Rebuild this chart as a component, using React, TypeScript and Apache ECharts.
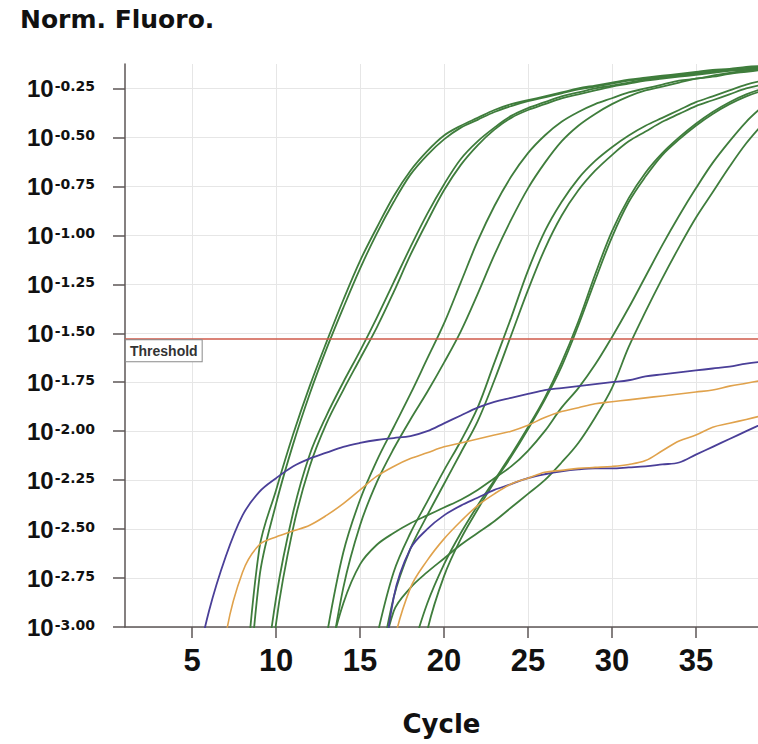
import React, { useEffect, useRef } from 'react';
import * as echarts from 'echarts';

// Cycle numbers (x values)
const cycles = [1,2,3,4,5,6,7,8,9,10,11,12,13,14,15,16,17,18,19,20,21,22,23,24,25,26,27,28,29,30,31,32,33,34,35,36,37,38,39];
const xTicks = [5, 10, 15, 20, 25, 30, 35];
const yTicks = [-3, -2.75, -2.5, -2.25, -2, -1.75, -1.5, -1.25, -1, -0.75, -0.5, -0.25];
const threshold = -1.53;

// log10(normalised fluorescence) per cycle; each curve starts at the given cycle
const g1aStart = 8;
const g1a = [-3.5,-2.6,-2.3,-2.02,-1.77,-1.545,-1.33,-1.13,-0.96,-0.8,-0.67,-0.57,-0.49,-0.44,-0.4,-0.36,-0.33,-0.31,-0.29,-0.27,-0.25,-0.235,-0.22,-0.205,-0.195,-0.185,-0.175,-0.165,-0.155,-0.15,-0.14,-0.135];
const g1bStart = 8;
const g1b = [-3.8,-2.75,-2.37,-2.07,-1.81,-1.58,-1.37,-1.17,-0.99,-0.83,-0.69,-0.59,-0.51,-0.45,-0.41,-0.37,-0.34,-0.315,-0.295,-0.275,-0.255,-0.24,-0.225,-0.21,-0.2,-0.19,-0.18,-0.17,-0.16,-0.155,-0.145,-0.14];
const g2aStart = 9;
const g2a = [-3.5,-2.85,-2.42,-2.12,-1.92,-1.75,-1.59,-1.42,-1.24,-1.06,-0.89,-0.74,-0.61,-0.52,-0.45,-0.39,-0.35,-0.32,-0.29,-0.27,-0.25,-0.235,-0.22,-0.205,-0.195,-0.185,-0.175,-0.165,-0.155,-0.15,-0.145];
const g2bStart = 9;
const g2b = [-3.8,-2.98,-2.5,-2.18,-1.96,-1.79,-1.63,-1.47,-1.29,-1.1,-0.93,-0.77,-0.64,-0.54,-0.46,-0.4,-0.36,-0.33,-0.3,-0.28,-0.26,-0.24,-0.225,-0.21,-0.2,-0.19,-0.18,-0.17,-0.16,-0.155,-0.15];
const g3aStart = 13;
const g3a = [-3.05,-2.62,-2.35,-2.15,-1.98,-1.81,-1.63,-1.45,-1.24,-1.03,-0.85,-0.7,-0.58,-0.49,-0.42,-0.37,-0.33,-0.3,-0.27,-0.25,-0.23,-0.21,-0.2,-0.185,-0.17,-0.16,-0.15];
const g3bStart = 13;
const g3b = [-3.3,-2.8,-2.48,-2.26,-2.09,-1.94,-1.8,-1.65,-1.49,-1.3,-1.1,-0.92,-0.76,-0.63,-0.52,-0.44,-0.38,-0.33,-0.29,-0.26,-0.24,-0.22,-0.2,-0.19,-0.175,-0.165,-0.155];
const g4aStart = 16;
const g4a = [-3.05,-2.72,-2.52,-2.36,-2.2,-2.05,-1.88,-1.65,-1.42,-1.18,-0.98,-0.83,-0.71,-0.62,-0.55,-0.49,-0.44,-0.4,-0.36,-0.32,-0.29,-0.26,-0.23,-0.21];
const g4bStart = 16;
const g4b = [-3.3,-2.85,-2.6,-2.43,-2.27,-2.11,-1.95,-1.74,-1.51,-1.28,-1.07,-0.9,-0.77,-0.67,-0.59,-0.52,-0.47,-0.42,-0.38,-0.34,-0.31,-0.28,-0.25,-0.23];
const g5aStart = 18;
const g5a = [-3.15,-2.88,-2.68,-2.52,-2.38,-2.25,-2.12,-1.98,-1.83,-1.65,-1.44,-1.2,-0.98,-0.81,-0.68,-0.58,-0.5,-0.43,-0.37,-0.32,-0.28,-0.25];
const g5bStart = 18;
const g5b = [-3.5,-3.02,-2.74,-2.55,-2.4,-2.26,-2.13,-1.99,-1.84,-1.67,-1.46,-1.23,-1.01,-0.83,-0.7,-0.59,-0.51,-0.44,-0.38,-0.33,-0.29,-0.26];
const g6aStart = 13;
const g6a = [-3.2,-2.88,-2.68,-2.58,-2.52,-2.47,-2.43,-2.39,-2.35,-2.3,-2.24,-2.18,-2.1,-2.0,-1.88,-1.78,-1.66,-1.52,-1.37,-1.21,-1.05,-0.9,-0.76,-0.63,-0.52,-0.42,-0.34];
const g6bStart = 16;
const g6b = [-3.3,-2.92,-2.8,-2.72,-2.65,-2.58,-2.52,-2.46,-2.39,-2.32,-2.25,-2.16,-2.06,-1.93,-1.78,-1.57,-1.39,-1.22,-1.06,-0.91,-0.78,-0.65,-0.53,-0.43];
const blue1Start = 5;
const blue1 = [-3.3,-2.92,-2.64,-2.43,-2.31,-2.24,-2.18,-2.14,-2.11,-2.08,-2.06,-2.045,-2.035,-2.025,-2.0,-1.96,-1.92,-1.88,-1.85,-1.83,-1.81,-1.79,-1.78,-1.77,-1.76,-1.75,-1.74,-1.72,-1.71,-1.7,-1.69,-1.68,-1.67,-1.655,-1.645];
const orange1Start = 6;
const orange1 = [-3.9,-3.05,-2.72,-2.58,-2.54,-2.51,-2.48,-2.43,-2.37,-2.3,-2.23,-2.18,-2.14,-2.11,-2.08,-2.06,-2.04,-2.02,-2.0,-1.97,-1.93,-1.9,-1.88,-1.86,-1.85,-1.84,-1.83,-1.82,-1.81,-1.8,-1.79,-1.77,-1.755,-1.74];
const blue2Start = 16;
const blue2 = [-3.5,-2.85,-2.6,-2.5,-2.43,-2.38,-2.34,-2.3,-2.27,-2.24,-2.22,-2.205,-2.195,-2.19,-2.19,-2.185,-2.18,-2.17,-2.16,-2.12,-2.08,-2.04,-2.0,-1.96];
const orange2Start = 16;
const orange2 = [-4.0,-3.1,-2.8,-2.66,-2.55,-2.46,-2.38,-2.32,-2.27,-2.24,-2.21,-2.2,-2.19,-2.185,-2.18,-2.17,-2.15,-2.1,-2.05,-2.02,-1.98,-1.96,-1.94,-1.92];

const greenCurves = [
  [g1aStart, g1a], [g1bStart, g1b], [g2aStart, g2a], [g2bStart, g2b],
  [g3aStart, g3a], [g3bStart, g3b], [g4aStart, g4a], [g4bStart, g4b],
  [g5aStart, g5a], [g5bStart, g5b], [g6aStart, g6a], [g6bStart, g6b],
] as [number, number[]][];

const DV = '"DejaVu Sans", sans-serif';
const LIB = '"Liberation Sans", Arial, sans-serif';
const GREEN = '#3f7d3c';
const BLUE = '#4a3f98';
const ORANGE = '#e0a24c';
const AXIS = '#5c5656';

function toData(start: number, values: number[]) {
  return values.map((v, i) => [cycles[start - 1 + i], v]);
}

function lineSeries(name: string, start: number, values: number[], color: string, width: number) {
  return {
    name,
    type: 'line',
    data: toData(start, values),
    showSymbol: false,
    smooth: 0.35,
    clip: true,
    lineStyle: { color, width },
    emphasis: { disabled: true },
  } as any;
}

export default function App() {
  const ref = useRef<HTMLDivElement>(null);
  useEffect(() => {
    if (!ref.current) return;
    const chart = echarts.init(ref.current, undefined, { renderer: 'svg' });
    const series: any[] = greenCurves.map(([s, v], i) => lineSeries('green' + i, s, v, GREEN, 1.8));
    series.push(lineSeries('blue1', blue1Start, blue1, BLUE, 1.8));
    series.push(lineSeries('orange1', orange1Start, orange1, ORANGE, 1.6));
    series.push(lineSeries('blue2', blue2Start, blue2, BLUE, 1.8));
    const last = lineSeries('orange2', orange2Start, orange2, ORANGE, 1.6);
    last.markLine = {
      silent: true,
      symbol: 'none',
      lineStyle: { color: '#cf5a4a', width: 1.6, type: 'solid' },
      label: {
        show: true,
        position: 'insideStartBottom',
        formatter: 'Threshold',
        fontFamily: LIB,
        fontSize: 14,
        fontWeight: 'bold',
        color: '#333',
        backgroundColor: '#fff',
        borderColor: '#8a8a8a',
        borderWidth: 1,
        padding: [4, 4, 3, 4],
        distance: [1, 1],
      },
      data: [{ yAxis: threshold }],
    };
    series.push(last);

    chart.setOption({
      animation: false,
      backgroundColor: '#ffffff',
      title: {
        text: 'Norm. Fluoro.',
        left: 20,
        top: 7,
        padding: 0,
        textStyle: { fontFamily: DV, fontSize: 25, fontWeight: 'bold', color: '#111' },
      },
      grid: { left: 125, right: 0, top: 64, bottom: 117 },
      xAxis: {
        type: 'value',
        min: 1,
        max: 38.7,
        name: 'Cycle',
        nameLocation: 'middle',
        nameGap: 84,
        nameTextStyle: { fontFamily: DV, fontSize: 26, fontWeight: 'bold', color: '#111' },
        axisLine: { show: true, onZero: false, lineStyle: { color: AXIS, width: 1.5 } },
        axisTick: { show: true, inside: false, length: 11, customValues: xTicks, lineStyle: { color: AXIS, width: 1.5 } },
        axisLabel: { customValues: xTicks, margin: 18, fontFamily: LIB, fontWeight: 'bold', fontSize: 31, color: '#111' },
        splitLine: { show: true, lineStyle: { color: '#e6e6e6', width: 1 } },
      },
      yAxis: {
        type: 'value',
        min: -3,
        max: -0.125,
        axisLine: { show: true, onZero: false, lineStyle: { color: AXIS, width: 1.5 } },
        axisTick: { show: true, inside: false, length: 12, customValues: yTicks, lineStyle: { color: AXIS, width: 1.5 } },
        axisLabel: {
          customValues: yTicks,
          margin: 30,
          formatter: (v: number) => `{b|10}{s|${v.toFixed(2)}}`,
          rich: {
            b: { fontFamily: LIB, fontWeight: 'bold', fontSize: 24, color: '#111', lineHeight: 25, verticalAlign: 'bottom' },
            s: { fontFamily: DV, fontWeight: 'bold', fontSize: 14, color: '#111', lineHeight: 25, verticalAlign: 'top', padding: [3, 0, 0, 1] },
          },
        },
        splitLine: { show: true, lineStyle: { color: '#e6e6e6', width: 1 } },
      },
      series,
    });
    return () => chart.dispose();
  }, []);
  return (
    <div
      ref={ref}
      style={{ position: 'fixed', left: 0, top: 0, width: 758, height: 744, background: '#fff' }}
    />
  );
}
